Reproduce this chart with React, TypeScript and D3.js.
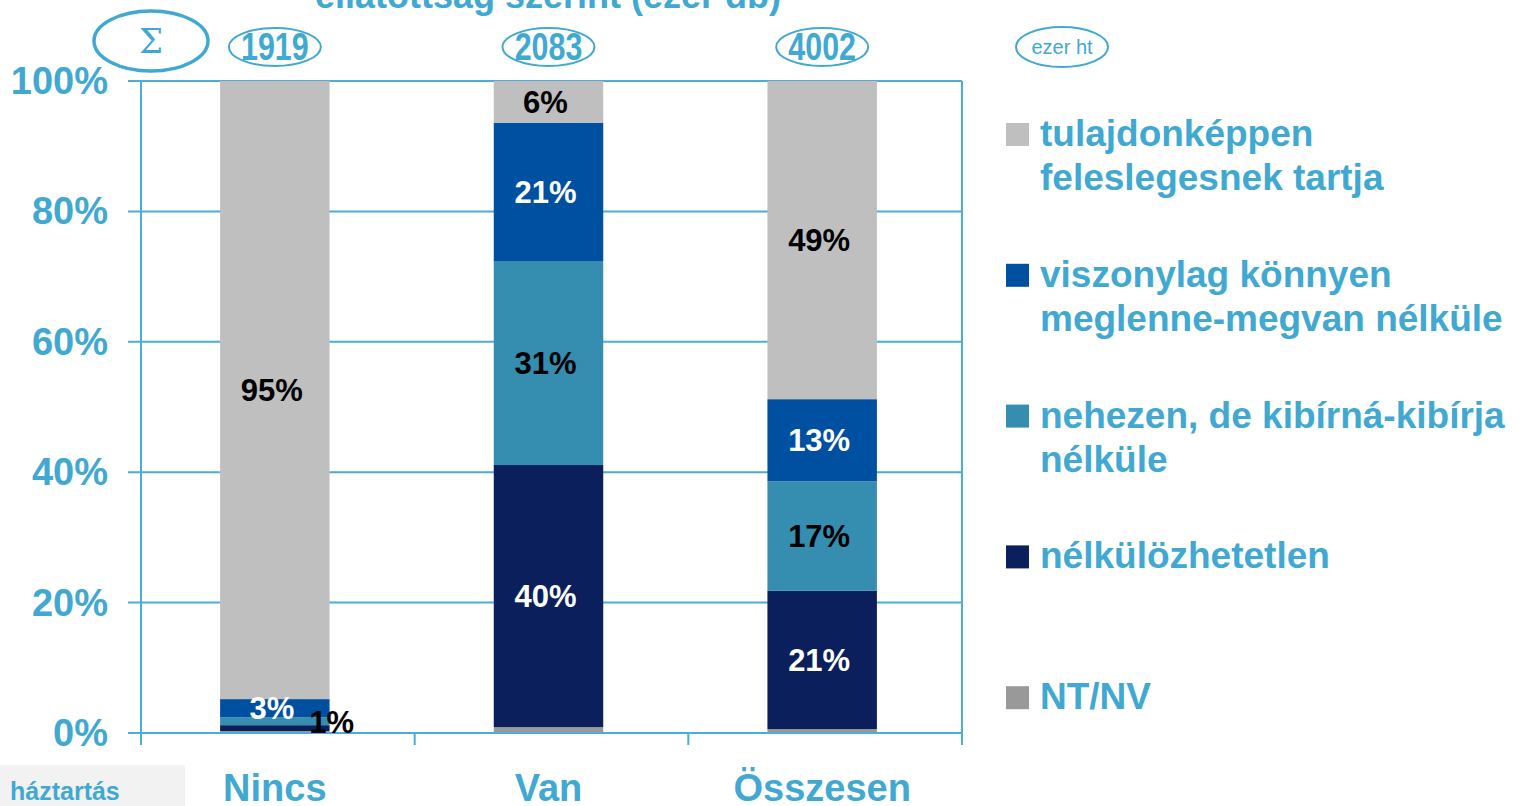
import React from "react";
import * as d3 from "d3";

const categories = ["Nincs", "Van", "Összesen"];
const totals = ["1919", "2083", "4002"];
const seriesNames = [
  "NT/NV",
  "nélkülözhetetlen",
  "nehezen, de kibírná-kibírja nélküle",
  "viszonylag könnyen meglenne-megvan nélküle",
  "tulajdonképpen feleslegesnek tartja",
];
const legendLines = [
  ["tulajdonképpen", "feleslegesnek tartja"],
  ["viszonylag könnyen", "meglenne-megvan nélküle"],
  ["nehezen, de kibírná-kibírja", "nélküle"],
  ["nélkülözhetetlen"],
  ["NT/NV"],
];
// values per category, bottom-to-top order as seriesNames
const ntnv = [0.3, 0.9, 0.6];
const nelkulozhetetlen = [0.9, 40.2, 21.2];
const nehezen = [1.2, 31.2, 16.8];
const viszonylag = [2.8, 21.3, 12.6];
const tulajdonkeppen = [94.8, 6.4, 48.8];
const yTicks = [0, 20, 40, 60, 80, 100];

const seriesValues = [ntnv, nelkulozhetetlen, nehezen, viszonylag, tulajdonkeppen];
const seriesColors = ["#999999", "#0a1f5c", "#358db0", "#0050a2", "#bfbfbf"];
const labelColors = ["#000", "#fff", "#000", "#fff", "#000"];
// which segments carry a label (per series, per category)
const showLabel = [
  [false, false, false],
  [true, true, true],
  [false, true, true],
  [true, true, true],
  [true, true, true],
];

const BLUE = "#41a9d1";
const GRID = "#4aaed6";
const FONT = "Liberation Sans, Arial, sans-serif";

export default function App() {
  const left = 141, right = 962, top = 81, bottom = 733;
  const x = d3.scaleBand<string>().domain(categories).range([left - 3, right - 3]).paddingInner(0.6).paddingOuter(0.3);
  const y = d3.scaleLinear().domain([0, 100]).range([bottom, top]);

  const rows = categories.map((c, i) => {
    const r: any = { cat: c };
    seriesNames.forEach((s, k) => (r[s] = seriesValues[k][i]));
    return r;
  });
  const stacked = d3.stack<any>().keys(seriesNames)(rows);

  const step = (right - left) / categories.length;
  const catTicks = d3.range(categories.length + 1).map((i) => left + i * step);

  return (
    <svg width={1538} height={806} style={{ position: "absolute", left: 0, top: 0, background: "#fff" }} fontFamily={FONT}>
      {/* title (partly cut) */}
      <text x={548} y={8} textAnchor="middle" fontSize={36} fontWeight="bold" fill={BLUE}>
        ellátottság szerint (ezer db)
      </text>
      {/* Σ ellipse */}
      <ellipse cx={151} cy={41} rx={57} ry={30} fill="none" stroke={BLUE} strokeWidth={3.5} />
      <text x={151} y={53} textAnchor="middle" fontSize={34} fill={BLUE} fontFamily="DejaVu Serif, serif">Σ</text>
      {/* totals */}
      {categories.map((c, i) => {
        const cx = (x(c) as number) + x.bandwidth() / 2;
        return (
          <g key={c}>
            <ellipse cx={cx} cy={47} rx={46} ry={19} fill="none" stroke={BLUE} strokeWidth={2} />
            <text transform={`translate(${cx},60) scale(0.8,1)`} textAnchor="middle" fontSize={38}
              fontWeight="bold" fill={BLUE}>{totals[i]}</text>
          </g>
        );
      })}
      <ellipse cx={1062} cy={47} rx={46} ry={20} fill="none" stroke={BLUE} strokeWidth={2} />
      <text x={1062} y={54} textAnchor="middle" fontSize={20} fill={BLUE}>ezer ht</text>

      {/* grid */}
      {yTicks.map((t) => (
        <g key={t}>
          <line x1={left - 13} x2={right} y1={y(t)} y2={y(t)} stroke={GRID} strokeWidth={2} />
          <text x={108} y={y(t) + 13} textAnchor="end" fontSize={38} fontWeight="bold" fill={BLUE}>{t}%</text>
        </g>
      ))}
      <line x1={left} x2={left} y1={top} y2={bottom + 12} stroke={GRID} strokeWidth={2} />
      <line x1={right} x2={right} y1={top} y2={bottom + 12} stroke={GRID} strokeWidth={2} />
      {catTicks.map((t, i) => (
        <line key={i} x1={t} x2={t} y1={bottom} y2={bottom + 12} stroke={GRID} strokeWidth={2} />
      ))}

      {/* bars */}
      {stacked.map((s, k) => (
        <g key={s.key} fill={seriesColors[k]}>
          {s.map((d, i) => (
            <rect key={i} x={x(categories[i])} width={x.bandwidth()} y={y(d[1])} height={y(d[0]) - y(d[1])} />
          ))}
        </g>
      ))}
      <line x1={left - 13} x2={right} y1={bottom} y2={bottom} stroke={GRID} strokeWidth={2} />

      {/* labels */}
      {stacked.map((s, k) =>
        s.map((d, i) => {
          if (!showLabel[k][i]) return null;
          const v = seriesValues[k][i];
          const cx = (x(categories[i]) as number) + x.bandwidth() / 2;
          const cy = (y(d[0]) + y(d[1])) / 2;
          const outside = v < 1.5;
          return (
            <text key={s.key + i} x={outside ? (x(categories[i]) as number) + x.bandwidth() + 2 : cx - 3}
              y={outside ? cy + 5 : cy + 11} textAnchor="middle" fontSize={31} fontWeight="bold"
              fill={outside ? "#000" : labelColors[k]}>
              {Math.round(v)}%
            </text>
          );
        })
      )}

      {/* category labels */}
      {categories.map((c) => (
        <text key={c} x={(x(c) as number) + x.bandwidth() / 2} y={801} textAnchor="middle" fontSize={38}
          fontWeight="bold" fill={BLUE}>{c}</text>
      ))}
      <rect x={0} y={765} width={185} height={41} fill="#f2f2f2" />
      <text x={10} y={800} fontSize={25} fontWeight="bold" fill={BLUE}>háztartás</text>

      {/* legend */}
      {legendLines.map((lines, j) => {
        const k = seriesNames.length - 1 - j;
        const base = 146 + j * 140.8;
        return (
          <g key={j}>
            <rect x={1006} y={base - 23} width={23} height={23} fill={seriesColors[k]} />
            {lines.map((ln, li) => (
              <text key={li} x={1040} y={base + li * 44} fontSize={37} fontWeight="bold" fill={BLUE}>{ln}</text>
            ))}
          </g>
        );
      })}
    </svg>
  );
}
